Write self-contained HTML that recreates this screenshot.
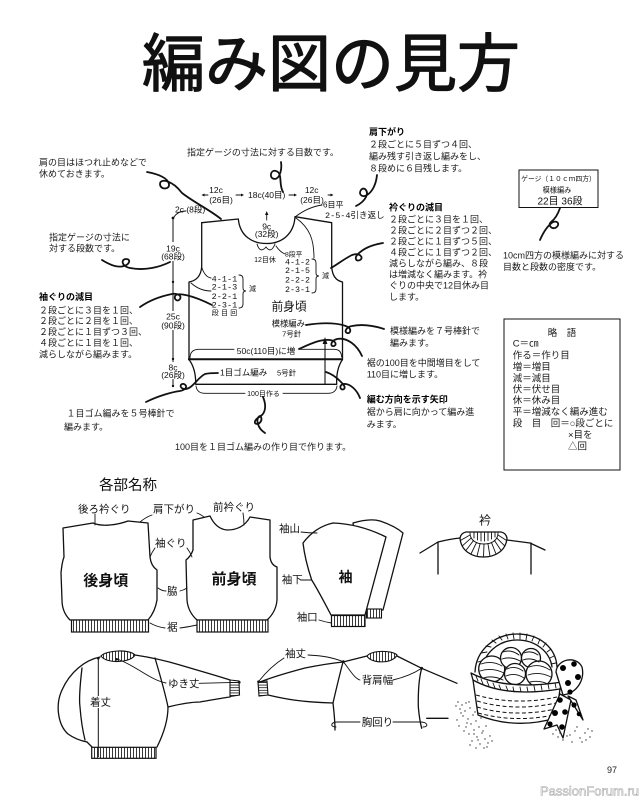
<!DOCTYPE html>
<html><head><meta charset="utf-8">
<style>
html,body{margin:0;padding:0;background:#fff;}
svg{display:block}
.t{font-family:"Liberation Sans","Noto Sans CJK JP",sans-serif;font-size:9px;fill:#1a1a1a}
.g{font-family:"Liberation Sans","Noto Sans CJK JP",sans-serif;font-size:9.5px;fill:#1a1a1a}
.b{font-weight:bold;fill:#000}
.d{font-family:"Liberation Sans","Noto Sans CJK JP",sans-serif;font-size:8.5px;fill:#111}
.m{font-family:"Liberation Mono","Noto Sans CJK JP",monospace;font-size:8.5px;fill:#111}
.h{font-family:"Liberation Sans","Noto Sans CJK JP",sans-serif;font-size:10.5px;fill:#111}
.l{fill:none;stroke:#111;stroke-width:1.3;stroke-linecap:round;stroke-linejoin:round}
.w{fill:#fff;stroke:#111;stroke-width:1.3;stroke-linejoin:round}
.c{fill:none;stroke:#111;stroke-width:1.8;stroke-linecap:round;stroke-linejoin:round}
.th{fill:none;stroke:#111;stroke-width:0.9;stroke-linecap:round}
</style></head><body>
<svg width="644" height="800" viewBox="0 0 644 800" xmlns="http://www.w3.org/2000/svg">
<defs>
<pattern id="rib" width="3" height="20" patternUnits="userSpaceOnUse"><rect width="3" height="20" fill="#fff"/><line x1="1.5" y1="0" x2="1.5" y2="20" stroke="#222" stroke-width="0.9"/></pattern>
<pattern id="hrib" width="20" height="2.6" patternUnits="userSpaceOnUse"><rect width="20" height="2.6" fill="#fff"/><line x1="0" y1="1.3" x2="20" y2="1.3" stroke="#222" stroke-width="0.8"/></pattern>
</defs>
<rect width="644" height="800" fill="#fff"/>

<!-- Title -->
<text x="142" y="86" font-family="'Noto Sans CJK JP','Noto Sans CJK SC',sans-serif" font-size="63" font-weight="400" fill="#111" stroke="#111" stroke-width="1.2" stroke-linejoin="round">編み図の見方</text>

<!-- ===== Upper annotations ===== -->
<text class="t" x="187" y="155.5">指定ゲージの寸法に対する目数です。</text>
<text class="t" x="39" y="165.5">肩の目はほつれ止めなどで</text>
<text class="t" x="39" y="177">休めておきます。</text>

<text class="t b" x="369" y="135">肩下がり</text>
<text class="t" x="369" y="147.5">２段ごとに５目ずつ４回、</text>
<text class="t" x="369" y="159.5">編み残す引き返し編みをし、</text>
<text class="t" x="369" y="171.5">８段めに６目残します。</text>

<text class="t b" x="389" y="210.5">衿ぐりの減目</text>
<text class="t" x="389" y="222.5">２段ごとに３目を１回、</text>
<text class="t" x="389" y="233.5">２段ごとに２目ずつ２回、</text>
<text class="t" x="389" y="244.5">２段ごとに１目ずつ５回、</text>
<text class="t" x="389" y="255.5">４段ごとに１目ずつ２回、</text>
<text class="t" x="389" y="266.5">減らしながら編み、８段</text>
<text class="t" x="389" y="277.5">は増減なく編みます。衿</text>
<text class="t" x="389" y="288.5">ぐりの中央で12目休み目</text>
<text class="t" x="389" y="300">します。</text>

<!-- Gauge box -->
<rect x="519" y="170" width="79" height="37.5" fill="none" stroke="#111" stroke-width="1"/>
<text x="558.5" y="181" text-anchor="middle" font-family="'Liberation Sans','Noto Sans CJK JP',sans-serif" font-size="6.8" fill="#111">ゲージ（１０ｃｍ四方）</text>
<text x="557" y="192.5" text-anchor="middle" font-family="'Liberation Sans','Noto Sans CJK JP',sans-serif" font-size="7.2" fill="#111">模様編み</text>
<text x="560" y="204.5" text-anchor="middle" font-family="'Liberation Sans','Noto Sans CJK JP',sans-serif" font-size="10" fill="#111">22目 36段</text>
<text class="t" x="503" y="258.5">10cm四方の模様編みに対する</text>
<text class="t" x="503" y="270">目数と段数の密度です。</text>

<text class="t" x="49" y="240.5">指定ゲージの寸法に</text>
<text class="t" x="49" y="251.5">対する段数です。</text>

<text class="t b" x="39" y="300">袖ぐりの減目</text>
<text class="t" x="39" y="313.3">２段ごとに３目を１回、</text>
<text class="t" x="39" y="324">２段ごとに２目を１回、</text>
<text class="t" x="39" y="335">２段ごとに１目ずつ３回、</text>
<text class="t" x="39" y="346">４段ごとに１目を１回、</text>
<text class="t" x="39" y="357.3">減らしながら編みます。</text>

<text class="t" x="66.5" y="416.6">１目ゴム編みを５号棒針で</text>
<text class="t" x="64" y="430">編みます。</text>
<text class="t" x="175" y="450">100目を１目ゴム編みの作り目で作ります。</text>

<text class="t" x="390" y="334">模様編みを７号棒針で</text>
<text class="t" x="390" y="346">編みます。</text>
<text class="t" x="366.7" y="366">裾の100目を中間増目をして</text>
<text class="t" x="366.7" y="377.5">110目に増します。</text>
<text class="t b" x="366.7" y="402.7">編む方向を示す矢印</text>
<text class="t" x="366.7" y="415">裾から肩に向かって編み進</text>
<text class="t" x="366.7" y="427.5">みます。</text>

<!-- Legend box -->
<rect x="504" y="319" width="116" height="151" fill="none" stroke="#111" stroke-width="1"/>
<text class="g" x="562" y="336" text-anchor="middle">略　語</text>
<text class="g" x="512.7" y="346.6">C＝㎝</text>
<text class="g" x="512.7" y="358.6">作る＝作り目</text>
<text class="g" x="512.7" y="370">増＝増目</text>
<text class="g" x="512.7" y="381.3">減＝減目</text>
<text class="g" x="512.7" y="392.6">伏＝伏せ目</text>
<text class="g" x="512.7" y="403.6">休＝休み目</text>
<text class="g" x="512.7" y="415">平＝増減なく編み進む</text>
<text class="g" x="512.7" y="426.6">段　目　回＝○段ごとに</text>
<text class="g" x="568" y="438">×目を</text>
<text class="g" x="568" y="449.3">△回</text>

<!-- ===== Front panel diagram ===== -->
<path class="l" d="M201.7,222.7 L238.3,219 C240,236 252,243.5 266.7,243.5 C282,243.5 294,234 295,216.7 L331.7,222.7 L331.7,266.7 Q332.5,280 342.5,282 L342.5,359"/>
<path class="l" d="M201.7,222.7 L201.7,267 Q200.5,280 189,282 L189,359"/>
<path fill="none" stroke="#111" stroke-width="2" d="M188,359.3 L343,359.3"/>
<path class="l" d="M189,359.5 Q196,369 195.7,384.3 L336.7,384.3 Q336,369 342.5,359.5"/>
<!-- brackets -->
<path class="th" d="M190,358 Q190,349.3 199,349.3 L234,349.3 M299,349.3 L334,349.3 Q341.5,349.3 341.5,357"/>
<path class="th" d="M196,386 Q197,393.3 205,393.3 L245,393.3 M283,393.3 L328,393.3 Q336,393.3 337,386"/>
<!-- direction arrow -->
<path fill="none" stroke="#111" stroke-width="1.1" d="M325,384 L325,342"/>
<polygon points="325,337 322.6,344 327.4,344" fill="#111"/>
<!-- left dimension line -->
<path fill="none" stroke="#111" stroke-width="1" d="M173,218 L173,386"/>
<rect x="160" y="242" width="27" height="19" fill="#fff"/>
<rect x="160" y="311" width="27" height="19" fill="#fff"/>
<rect x="160" y="362" width="27" height="17" fill="#fff"/>
<circle cx="173" cy="218" r="1.4" fill="#111"/>
<circle cx="173" cy="282" r="1.2" fill="#111"/>
<circle cx="173" cy="359" r="1.2" fill="#111"/>
<circle cx="173" cy="386" r="1.2" fill="#111"/>
<path class="th" d="M174,217 Q178,211 186,211"/>
<text class="d" x="173" y="251.3" text-anchor="middle">19c</text>
<text class="d" x="173" y="259.7" text-anchor="middle">(68段)</text>
<text class="d" x="173" y="319.7" text-anchor="middle">25c</text>
<text class="d" x="173" y="328.7" text-anchor="middle">(90段)</text>
<text class="d" x="173" y="370.3" text-anchor="middle">8c</text>
<text class="d" x="173" y="378" text-anchor="middle">(26段)</text>
<text class="d" x="175" y="212.3">2c (8段)</text>
<!-- top dims -->
<text class="d" x="216" y="193" text-anchor="middle">12c</text>
<text class="d" x="221" y="203" text-anchor="middle">(26目)</text>
<text class="d" x="266.7" y="198" text-anchor="middle">18c(40目)</text>
<text class="d" x="311.7" y="193" text-anchor="middle">12c</text>
<text class="d" x="312" y="203" text-anchor="middle">(26目)</text>
<path class="th" d="M203,195 L208,195 M236,195 L242,195 M289,195 L295,195 M328,195 L332,195"/>
<polygon points="201.5,195 204.5,193.5 204.5,196.5" fill="#111"/>
<polygon points="244,195 241,193.5 241,196.5" fill="#111"/>
<polygon points="297,195 294,193.5 294,196.5" fill="#111"/>
<polygon points="333.5,195 330.5,193.5 330.5,196.5" fill="#111"/>
<text x="323" y="207.7" font-family="'Liberation Sans','Noto Sans CJK JP',sans-serif" font-size="8" fill="#111">6目平</text>
<text class="m" x="325" y="218">2-5-4引き返し</text>
<path class="th" d="M295,217 Q308,207 322,205"/>
<path class="th" d="M296,218 C310,228 314,240 314,258"/>
<!-- neck -->
<path class="th" d="M266.7,220 L266.7,213"/>
<polygon points="266.7,211 265,215 268.4,215" fill="#111"/>
<text class="d" x="266.7" y="229.5" text-anchor="middle">9c</text>
<text class="d" x="266.7" y="237" text-anchor="middle">(32段)</text>
<path class="th" d="M257,244 Q260,254 266,247 Q271,254 275,244"/>
<path class="th" d="M276,246 Q280,252 285,254"/>
<text x="285" y="256.5" font-family="'Liberation Sans','Noto Sans CJK JP',sans-serif" font-size="6.8" fill="#111">8段平</text>
<text x="265" y="262" text-anchor="middle" font-family="'Liberation Sans','Noto Sans CJK JP',sans-serif" font-size="7" fill="#111">12目休</text>
<text class="m" x="285" y="264.7" textLength="25" lengthAdjust="spacingAndGlyphs">4-1-2</text>
<text class="m" x="285" y="273" textLength="25" lengthAdjust="spacingAndGlyphs">2-1-5</text>
<text class="m" x="285" y="282.3" textLength="25" lengthAdjust="spacingAndGlyphs">2-2-2</text>
<text class="m" x="285" y="292" textLength="25" lengthAdjust="spacingAndGlyphs">2-3-1</text>
<path class="th" d="M312,259 Q316,259 316,263 L316,273 Q316,276 319,276 Q316,276 316,279 L316,289 Q316,293 312,293"/>
<text x="322" y="278" font-family="'Noto Sans CJK JP',sans-serif" font-size="7" fill="#111">減</text>
<!-- left armhole -->
<path class="th" d="M202,268 Q205,277 211,278"/>
<path class="th" d="M191,283 Q200,291 211,291"/>
<text class="m" x="211.7" y="281.3" textLength="25.6" lengthAdjust="spacingAndGlyphs">4-1-1</text>
<text class="m" x="211.7" y="289.7" textLength="25.6" lengthAdjust="spacingAndGlyphs">2-1-3</text>
<text class="m" x="211.7" y="299" textLength="25.6" lengthAdjust="spacingAndGlyphs">2-2-1</text>
<text class="m" x="211.7" y="307.3" textLength="25.6" lengthAdjust="spacingAndGlyphs">2-3-1</text>
<text x="211.7" y="315" font-family="'Noto Sans CJK JP',sans-serif" font-size="7" fill="#111" textLength="25.6" lengthAdjust="spacing">段目回</text>
<path class="th" d="M239,275 Q243,275 243,279 L243,288 Q243,291 246,291 Q243,291 243,294 L243,304 Q243,308 239,308"/>
<text x="249" y="291" font-family="'Noto Sans CJK JP',sans-serif" font-size="7" fill="#111">減</text>
<!-- panel center texts -->
<text x="289" y="310.3" text-anchor="middle" font-family="'Liberation Sans','Noto Sans CJK JP',sans-serif" font-size="11.7" fill="#111">前身頃</text>
<text x="288.3" y="326.3" text-anchor="middle" font-family="'Liberation Sans','Noto Sans CJK JP',sans-serif" font-size="8.3" fill="#111">模様編み</text>
<text x="291.7" y="336.7" text-anchor="middle" font-family="'Liberation Sans','Noto Sans CJK JP',sans-serif" font-size="7.5" fill="#111">7号針</text>
<text class="d" x="266" y="354" text-anchor="middle">50c(110目)に増</text>
<text class="d" x="220" y="375.7">1目ゴム編み</text>
<text x="277" y="375.5" font-family="'Liberation Sans','Noto Sans CJK JP',sans-serif" font-size="7.5" fill="#111">5号針</text>
<text x="263.5" y="395.8" text-anchor="middle" font-family="'Liberation Sans','Noto Sans CJK JP',sans-serif" font-size="7" fill="#111">100目作る</text>

<!-- curly connectors -->
<path class="c" d="M147,172 C158,174 168,178 169,184 C170,190 160,190 160,184 C160,178 172,180 182,193 C195,203 210,210 221,219"/>
<path class="c" d="M281,162 C282,168 281,172 279,176 C276,181 270,179 271,174 C272,169 279,170 280,176 C281,182 280,187 283,192"/>
<path class="c" d="M102,260 C110,265 118,268 124,266 C130,264 131,259 126,259 C121,259 121,266 130,268 C145,271 160,267 170,262"/>
<path class="c" d="M377,175 C376,185 372,192 367,195 C362,198 358,194 361,190 C364,186 369,191 366,197 C364,201 360,204 356,206"/>
<path class="c" d="M383,243 C370,245 362,250 358,254 C354,258 356,262 360,260 C364,258 360,252 352,255 C344,259 338,264 331,268"/>
<path class="c" d="M560,208 C558,214 555,219 551,222 C548,225 551,229 555,228 C560,226 559,220 553,222 C547,226 543,233 540,240"/>
<path class="c" d="M140,307 C150,300 162,296 172,294 C178,293 182,296 180,299 C178,302 174,300 175,296 C177,292 192,295 212,305"/>
<path class="c" d="M146,402 C158,396 172,392 180,391 C186,390 188,386 184,384 C180,383 179,388 184,389 C192,390 197,378 205,374 C209,373 214,373 218,373"/>
<path class="c" d="M263,397 C266,404 266,411 262,415 C258,418 254,420 255,423 C257,426 263,422 261,417 C260,414 256,418 258,424 C259,428 262,431 265,433"/>
<path class="c" d="M306,325 C325,322 340,323 348,327 C352,330 350,334 347,333 C344,332 346,327 352,326 C362,324 372,325 384,329"/>
<path class="c" d="M299,349 C310,344 320,339 330,340 C336,341 337,345 334,346 C330,347 330,341 337,339 C347,337 357,345 362,356"/>
<path class="c" d="M326,372 C332,374 337,378 340,381 C343,384 346,387 344,389 C341,391 338,386 343,384 C350,383 357,390 360,398"/>

<!-- ===== Lower: 各部名称 ===== -->
<text x="99" y="490" font-family="'Liberation Sans','Noto Sans CJK JP',sans-serif" font-size="14.5" fill="#111">各部名称</text>

<!-- back body -->
<path class="l" d="M63,528 L93,523 Q100,526 110,525 Q120,524 128,521 L148,523 L150,557 Q151,566 157,570 L157,600 Q155,612 148,620 L70,620 Q62,612 62,600 L61,573 Q62,562 64,557 Z"/>
<rect x="71.5" y="620" width="77" height="12" fill="url(#rib)" stroke="#111" stroke-width="1.2"/>
<text x="105.8" y="585.5" text-anchor="middle" font-family="'Liberation Sans','Noto Sans CJK JP',sans-serif" font-size="15" font-weight="bold" fill="#111">後身頃</text>
<!-- front body -->
<path class="l" d="M193,520 L210,516 Q216,529 227,530 Q243,530 250,517 L270,520 L270,557 Q271,565 277,567 L277,600 Q276,612 267,620 L197,620 Q188,612 187,600 L186,560 Q191,556 193,550 Z"/>
<rect x="197" y="620" width="71" height="12" fill="url(#rib)" stroke="#111" stroke-width="1.2"/>
<text x="234" y="583.8" text-anchor="middle" font-family="'Liberation Sans','Noto Sans CJK JP',sans-serif" font-size="15" font-weight="bold" fill="#111">前身頃</text>
<!-- sleeves -->
<path class="w" d="M353,523 Q370,518 380,521 Q395,526 403,533 L383,610 L366,610 Z"/>
<rect x="366.5" y="609" width="15" height="9" fill="url(#rib)" stroke="#111" stroke-width="1.1"/>
<path class="w" d="M303,543 Q315,527 333,523 Q360,524 386,537 L365,615 L331,615 Q318,590 311.7,580 Q305,560 303,543 Z"/>
<rect x="331.5" y="615.5" width="33.5" height="11" fill="url(#rib)" stroke="#111" stroke-width="1.2"/>
<text x="345.5" y="582" text-anchor="middle" font-family="'Liberation Sans','Noto Sans CJK JP',sans-serif" font-size="14" font-weight="bold" fill="#111">袖</text>

<!-- lower labels -->
<text class="h" x="78" y="512.6">後ろ衿ぐり</text>
<text class="h" x="153" y="512.6">肩下がり</text>
<text class="h" x="213" y="510.3">前衿ぐり</text>
<text class="h" x="155" y="546.3">袖ぐり</text>
<text class="h" x="167" y="594.3">脇</text>
<text class="h" x="167" y="630.3">裾</text>
<text class="h" x="279" y="532">袖山</text>
<text class="h" x="281.7" y="583">袖下</text>
<text class="h" x="296.7" y="620.3">袖口</text>
<path class="th" d="M95,514 L95,525"/>
<path class="th" d="M152,515 Q146,517 140,522 M197,513 Q200,514 204,517"/>
<path class="th" d="M243,513 Q244,519 244,525"/>
<path class="th" d="M155,548 Q152,552 150,557 M187,548 Q190,552 192,557"/>
<path class="th" d="M158,588 Q162,591 166,591 M180,591 Q184,590 187,588"/>
<path class="th" d="M150,623 Q157,627 165,628 M180,628 Q188,627 197,625"/>
<path class="th" d="M301,532 Q309,533 317,533"/>
<path class="th" d="M301,580 L311.5,580"/>
<path class="th" d="M319,620 Q325,622 331.5,623"/>

<!-- collar illustration -->
<text x="485" y="524.5" text-anchor="middle" font-family="'Liberation Sans','Noto Sans CJK JP',sans-serif" font-size="12" fill="#111">衿</text>
<path class="l" d="M420,553 L438,542 Q450,539 460,538"/>
<path class="l" d="M507,540 L530,543 L545,550"/>
<path class="l" d="M438,542 L438,574 M531,543 L531,574"/>
<path class="l" d="M460,538 C461,551 472,557 483.5,557 C495,557 506,551 507,538 Q506,533 501,532 L466,532 Q461,533 460,538 Z" fill="#fff"/>
<path class="th" d="M470,533 C470,540 476,544 484,544 C492,544 498,540 498,533"/>
<path class="th" d="M497.8,534.9 L506.6,540.5 M496.6,537.8 L504.6,545.8 M494.4,540.4 L501,550.4 M491.4,542.3 L496,554 M487.9,543.6 L490,556.2 M484,544 L483.5,557 M480.1,543.6 L477,556.2 M476.6,542.3 L471,554 M473.6,540.4 L466,550.4 M471.4,537.8 L462.4,545.8 M470.2,534.9 L460.4,540.5"/>
<path class="th" d="M474,532.5 L474,538 M477.5,532.5 L477.5,540 M481,532.5 L481,541 M484.5,532.5 L484.5,541 M488,532.5 L488,540.5 M491.5,532.5 L491.5,539 M495,532.5 L495,537"/>

<!-- bottom-left sweater -->
<path class="l" d="M100,657 C85,660 70,672 62,690 C55,705 58,725 68,734 C75,739 82,741 87,742"/>
<path class="l" d="M82,668 C80,685 79,700 80,707 C81,720 83,732 85,740"/>
<path class="l" d="M87,742 L92,747"/>
<path class="l" d="M155,658 C160,675 165,692 168,707 C168,722 162,737 157,747"/>
<path class="l" d="M135,655 C155,658 170,662 180,665 C200,671 218,676 230,680"/>
<path class="l" d="M168,707 C180,704 190,702 200,702 C212,700 222,698 230,697"/>
<path d="M230,680 L239,681 L239.5,695 L230,696.5 Z" fill="url(#hrib)" stroke="#111" stroke-width="1.1"/>
<path d="M101,656 C106,650 130,649 135,655 C131,663 106,664 101,656 Z" fill="url(#rib)" stroke="#111" stroke-width="1.1"/>
<rect x="91.7" y="747.3" width="64.3" height="11" fill="url(#rib)" stroke="#111" stroke-width="1.2"/>
<path fill="none" stroke="#111" stroke-width="1" d="M98.3,658 L98.3,757"/>
<circle cx="98.3" cy="658.3" r="1.3" fill="#111"/>
<rect x="89" y="696" width="20" height="12" fill="#fff"/>
<text class="h" x="90" y="705.3">着丈</text>
<path class="th" d="M117,659 C135,665 150,680 166,683"/>
<circle cx="116.7" cy="659.3" r="1.3" fill="#111"/>
<text class="h" x="168" y="687">ゆき丈</text>
<path class="th" d="M199,683.3 L239,682.3"/>
<circle cx="239.3" cy="682.3" r="1.3" fill="#111"/>

<!-- bottom-right sweater -->
<path d="M258,682 L267,681 L268,695 L259,696 Z" fill="url(#hrib)" stroke="#111" stroke-width="1.1"/>
<path class="l" d="M260,682 C275,676 290,672 305,668 C320,665 333,663 343,662"/>
<path class="l" d="M268,695 C285,699 300,702 333,703"/>
<path class="l" d="M343,662 C339,677 336,690 333,703 C334,712 335,720 335,730"/>
<path class="l" d="M343,662 L367,656"/>
<path d="M367,656 C372,650 392,650 397,655 C393,664 371,664 367,656 Z" fill="url(#rib)" stroke="#111" stroke-width="1.1"/>
<path class="l" d="M397,656 L421.7,668.3 L457,683.3"/>
<path class="l" d="M421.7,668.3 C419,678 418,690 418.3,706.7 C419,715 420,722 421.7,728.3"/>
<path class="l" d="M426.7,718.3 L448,718.3"/>
<circle cx="343.3" cy="661.7" r="1.4" fill="#111"/>
<circle cx="421.7" cy="668.3" r="1.4" fill="#111"/>
<circle cx="258.5" cy="681.7" r="1.3" fill="#111"/>
<text class="h" x="285" y="657">袖丈</text>
<path class="th" d="M308,655 Q330,656 343,661.7 M284,658 Q270,667 259,681"/>
<text class="h" x="361.7" y="683.6">背肩幅</text>
<path class="th" d="M343.3,661.7 C350,670 354,678 360,680 M393,680 Q410,676 421.7,668.3"/>
<text class="h" x="361.7" y="725.3">胸回り</text>
<path class="th" d="M360,722 L338,722 C330,722 330,727 336,727 M393,722 L420,722 C428,722 429,727 423,727"/>

<!-- basket -->
<path class="l" d="M475,672 C476,650 495,634 517,634 C540,634 556,648 557,667"/>
<path class="l" d="M482,671 C483,654 498,640 517,640 C536,640 550,652 552,667"/>
<path class="th" d="M478,662 L484,660 M481,653 L487,652 M486,646 L491,647 M492,640 L496,643 M499,636 L502,640 M506,634 L508,639 M513,633 L514,639 M520,633 L520,639 M527,634 L526,640 M534,636 L532,641 M540,639 L538,644 M546,643 L543,647 M551,649 L547,652 M554,656 L550,658 M556,663 L551,664"/>
<circle cx="491.7" cy="669" r="13" class="w"/>
<circle cx="511" cy="658" r="10.5" class="w"/>
<circle cx="531" cy="658" r="9.5" class="w"/>
<circle cx="539" cy="674" r="13" class="w"/>
<circle cx="515" cy="674" r="10.5" class="w"/>
<path class="th" d="M481,664 Q492,660 502,666 M480,671 Q492,667 504,673 M483,678 Q493,675 503,680 M503,652 Q511,649 519,655 M502,659 Q511,656 520,661 M524,653 Q531,650 538,655 M523,660 Q531,657 539,662 M507,669 Q515,665 523,671 M506,676 Q515,672 524,678 M529,667 Q539,663 550,670 M528,675 Q539,671 551,677 M530,682 Q539,680 548,684"/>
<path class="w" d="M471,673 Q505,691 562,682 L560,689 L556,718 Q515,730 478,715 L473,680 Z"/>
<path class="l" d="M473,680 Q505,698 560,689"/>
<path class="th" d="M476,676 L478,681 M481,679 L483,684 M487,681 L489,686 M493,683 L495,688 M499,685 L501,690 M506,686 L508,691 M513,687 L514,692 M520,687 L521,692 M527,687 L528,692 M534,686 L535,691 M541,685 L542,690 M548,684 L549,689 M555,683 L556,688"/>
<g stroke="#111" stroke-width="1" stroke-dasharray="4 2.5" fill="none">
<path d="M476,695 Q515,706 557,697"/>
<path d="M477,701 Q515,712 556,703"/>
<path d="M477,707 Q515,718 555,709"/>
<path d="M478,713 Q515,723 554,715"/>
</g>
<!-- bow -->
<path class="w" d="M556,672 C557,659 576,655 582,667 C585,680 577,693 563,695 Z"/>
<path class="w" d="M560,694 L544,729 L557,725 L563,738 L571,700 Z"/>
<path class="w" d="M568,696 L583,720 L576,700 Z"/>
<g fill="#000">
<circle cx="563" cy="668" r="3"/><circle cx="574" cy="664" r="2.8"/><circle cx="578" cy="677" r="3"/><circle cx="568" cy="683" r="3"/><circle cx="560" cy="700" r="2.8"/><circle cx="555" cy="713" r="3"/><circle cx="565" cy="712" r="2.8"/><circle cx="550" cy="724" r="2.6"/><circle cx="562" cy="727" r="2.8"/><circle cx="574" cy="705" r="2.6"/><circle cx="579" cy="714" r="2.3"/><circle cx="570" cy="692" r="2.6"/>
</g>
<g fill="#333">
<circle cx="458" cy="702" r=".7"/><circle cx="462" cy="705" r=".7"/><circle cx="466" cy="703" r=".7"/><circle cx="460" cy="709" r=".7"/><circle cx="465" cy="711" r=".7"/><circle cx="470" cy="708" r=".7"/><circle cx="463" cy="716" r=".7"/><circle cx="468" cy="719" r=".7"/><circle cx="473" cy="715" r=".7"/><circle cx="457" cy="720" r=".7"/><circle cx="471" cy="724" r=".7"/><circle cx="476" cy="721" r=".7"/><circle cx="466" cy="727" r=".7"/><circle cx="474" cy="730" r=".7"/><circle cx="479" cy="727" r=".7"/><circle cx="469" cy="734" r=".7"/><circle cx="477" cy="737" r=".7"/><circle cx="482" cy="733" r=".7"/><circle cx="472" cy="741" r=".7"/><circle cx="480" cy="744" r=".7"/><circle cx="485" cy="739" r=".7"/><circle cx="476" cy="748" r=".7"/><circle cx="484" cy="748" r=".7"/><circle cx="488" cy="743" r=".7"/><circle cx="461" cy="713" r=".7"/><circle cx="467" cy="723" r=".7"/><circle cx="475" cy="712" r=".7"/><circle cx="478" cy="740" r=".7"/><circle cx="483" cy="731" r=".7"/><circle cx="470" cy="745" r=".7"/><circle cx="490" cy="736" r=".7"/><circle cx="459" cy="726" r=".7"/><circle cx="464" cy="731" r=".7"/><circle cx="486" cy="726" r=".7"/><circle cx="481" cy="718" r=".7"/><circle cx="456" cy="706" r=".7"/><circle cx="469" cy="702" r=".7"/><circle cx="474" cy="734" r=".7"/><circle cx="487" cy="747" r=".7"/><circle cx="492" cy="741" r=".7"/>
<circle cx="556" cy="730" r=".7"/><circle cx="560" cy="733" r=".7"/><circle cx="565" cy="729" r=".7"/><circle cx="570" cy="735" r=".7"/><circle cx="575" cy="731" r=".7"/><circle cx="580" cy="738" r=".7"/><circle cx="585" cy="733" r=".7"/><circle cx="590" cy="737" r=".7"/><circle cx="563" cy="740" r=".7"/><circle cx="572" cy="742" r=".7"/><circle cx="582" cy="742" r=".7"/><circle cx="588" cy="729" r=".7"/><circle cx="558" cy="737" r=".7"/><circle cx="577" cy="727" r=".7"/><circle cx="567" cy="736" r=".7"/><circle cx="592" cy="731" r=".7"/><circle cx="553" cy="734" r=".7"/><circle cx="586" cy="740" r=".7"/>
</g>

<!-- page number & watermark -->
<text x="607" y="773" font-family="'Liberation Sans',sans-serif" font-size="9" fill="#222">97</text>
<text x="540" y="795.5" font-family="'Liberation Sans',sans-serif" font-size="13" fill="#fff" stroke="#aaa" stroke-width="0.6" textLength="99" lengthAdjust="spacingAndGlyphs">PassionForum.ru</text>
</svg>
</body></html>
